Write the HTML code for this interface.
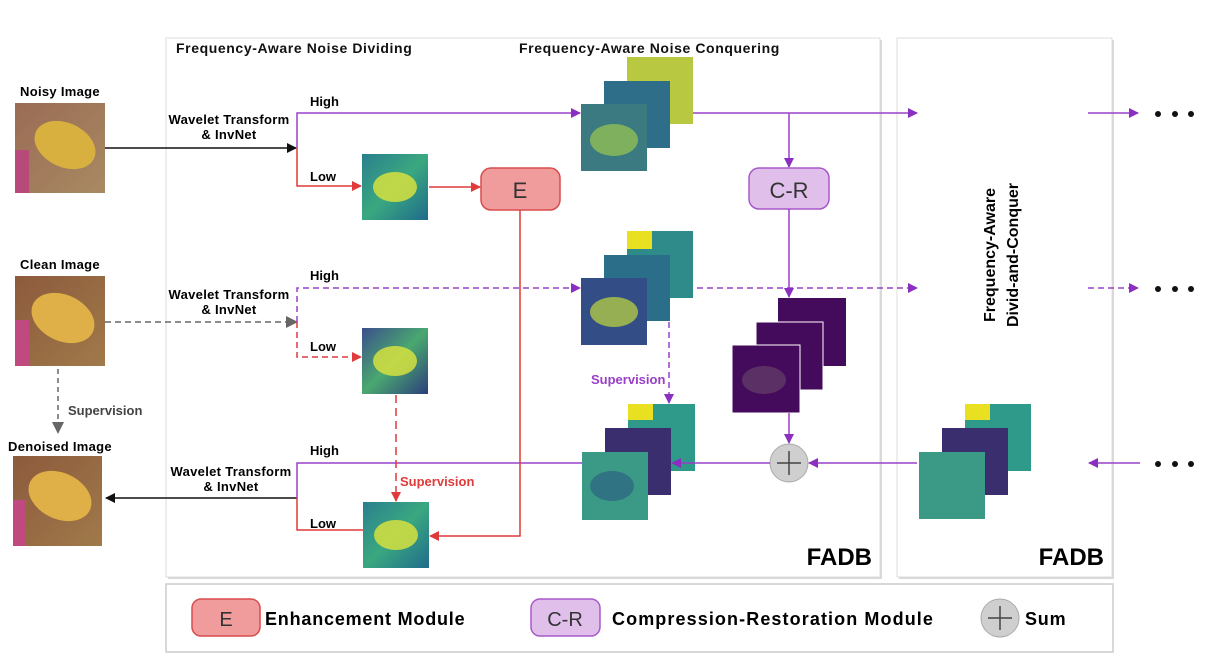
<!DOCTYPE html>
<html><head><meta charset="utf-8"><style>
body{margin:0;background:#fff}
svg{display:block;font-family:"Liberation Sans","DejaVu Sans",sans-serif}
</style></head><body>
<svg width="1217" height="660" viewBox="0 0 1217 660" xmlns="http://www.w3.org/2000/svg">
<defs>
<marker id="ap" markerWidth="10" markerHeight="10" refX="9" refY="5" orient="auto" markerUnits="userSpaceOnUse"><path d="M0,0 L10,5 L0,10 z" fill="#8a2fc0"/></marker>
<marker id="ar" markerWidth="10" markerHeight="10" refX="9" refY="5" orient="auto" markerUnits="userSpaceOnUse"><path d="M0,0 L10,5 L0,10 z" fill="#e03a3a"/></marker>
<marker id="ak" markerWidth="10" markerHeight="10" refX="9" refY="5" orient="auto" markerUnits="userSpaceOnUse"><path d="M0,0 L10,5 L0,10 z" fill="#111"/></marker>
<marker id="ag" markerWidth="12" markerHeight="12" refX="10" refY="6" orient="auto" markerUnits="userSpaceOnUse"><path d="M0,0 L12,6 L0,12 z" fill="#666"/></marker>
<linearGradient id="vir" x1="0" y1="0" x2="1" y2="1"><stop offset="0" stop-color="#2a7f8e"/><stop offset="0.5" stop-color="#3aa87f"/><stop offset="1" stop-color="#1f6b8c"/></linearGradient>
<linearGradient id="vir2" x1="0" y1="0" x2="1" y2="1"><stop offset="0" stop-color="#3b4f8c"/><stop offset="0.5" stop-color="#4aa870"/><stop offset="1" stop-color="#2c3e7c"/></linearGradient>
<linearGradient id="noisy" x1="0" y1="0" x2="1" y2="1"><stop offset="0" stop-color="#9a6b55"/><stop offset="1" stop-color="#a88a62"/></linearGradient>
<linearGradient id="clean" x1="0" y1="0" x2="1" y2="1"><stop offset="0" stop-color="#8c5a3c"/><stop offset="1" stop-color="#a07a4a"/></linearGradient>
</defs>

<rect x="168" y="40" width="714" height="539" fill="#d8d8d8"/>
<rect x="166" y="38" width="714" height="539" fill="#fff" stroke="#ddd"/>
<rect x="899" y="40" width="215" height="539" fill="#d8d8d8"/>
<rect x="897" y="38" width="215" height="539" fill="#fff" stroke="#ddd"/>
<rect x="166" y="584" width="947" height="68" fill="#fff" stroke="#ccc" stroke-width="1.5"/>

<text x="176" y="53" font-size="14" letter-spacing="0.6" font-weight="bold" fill="#111">Frequency-Aware Noise Dividing</text>
<text x="519" y="53" font-size="14" letter-spacing="0.6" font-weight="bold" fill="#111">Frequency-Aware Noise Conquering</text>

<text x="60" y="96" font-size="13" letter-spacing="0.3" font-weight="bold" text-anchor="middle">Noisy Image</text>
<rect x="15" y="103" width="90" height="90" fill="url(#noisy)"/>
<ellipse cx="65" cy="145" rx="32" ry="22" fill="#d8b040" transform="rotate(25 65 145)"/>
<rect x="15" y="150" width="14" height="43" fill="#b84a7a"/>
<text x="60" y="269" font-size="13" letter-spacing="0.3" font-weight="bold" text-anchor="middle">Clean Image</text>
<rect x="15" y="276" width="90" height="90" fill="url(#clean)"/>
<ellipse cx="63" cy="318" rx="33" ry="23" fill="#e0b048" transform="rotate(25 63 318)"/>
<rect x="15" y="320" width="14" height="46" fill="#c04a80"/>
<text x="60" y="451" font-size="13" letter-spacing="0.3" font-weight="bold" text-anchor="middle">Denoised Image</text>
<rect x="13" y="456" width="89" height="90" fill="url(#clean)"/>
<ellipse cx="60" cy="496" rx="33" ry="23" fill="#e0b048" transform="rotate(25 60 496)"/>
<rect x="13" y="500" width="13" height="46" fill="#c04a80"/>

<line x1="58" y1="369" x2="58" y2="432" stroke="#666" stroke-width="1.5" stroke-dasharray="5,4" marker-end="url(#ag)"/>
<text x="68" y="415" font-size="13" font-weight="bold" fill="#444">Supervision</text>

<g font-size="13" letter-spacing="0.3" font-weight="bold" text-anchor="middle">
<text x="229" y="124">Wavelet Transform</text>
<text x="229" y="139">&amp; InvNet</text>
<text x="229" y="299">Wavelet Transform</text>
<text x="229" y="314">&amp; InvNet</text>
<text x="231" y="476">Wavelet Transform</text>
<text x="231" y="491">&amp; InvNet</text>
</g>

<line x1="105" y1="148" x2="296" y2="148" stroke="#111" stroke-width="1.5" marker-end="url(#ak)"/>
<polyline points="297,148 297,113 580,113" fill="none" stroke="#9a40c8" stroke-width="1.5" marker-end="url(#ap)"/>
<polyline points="297,148 297,186 361,186" fill="none" stroke="#e03a3a" stroke-width="1.5" marker-end="url(#ar)"/>
<text x="310" y="106" font-size="13" font-weight="bold">High</text>
<text x="310" y="181" font-size="13" font-weight="bold">Low</text>
<line x1="429" y1="187" x2="480" y2="187" stroke="#e03a3a" stroke-width="1.5" marker-end="url(#ar)"/>
<line x1="647" y1="113" x2="917" y2="113" stroke="#9a40c8" stroke-width="1.5" marker-end="url(#ap)"/>

<line x1="105" y1="322" x2="296" y2="322" stroke="#666" stroke-width="1.5" stroke-dasharray="6,4" marker-end="url(#ag)"/>
<polyline points="297,322 297,288 580,288" fill="none" stroke="#9a40c8" stroke-width="1.5" stroke-dasharray="6,4" marker-end="url(#ap)"/>
<polyline points="297,322 297,357 361,357" fill="none" stroke="#e03a3a" stroke-width="1.5" stroke-dasharray="6,4" marker-end="url(#ar)"/>
<text x="310" y="280" font-size="13" font-weight="bold">High</text>
<text x="310" y="351" font-size="13" font-weight="bold">Low</text>
<line x1="647" y1="288" x2="917" y2="288" stroke="#9a40c8" stroke-width="1.5" stroke-dasharray="6,4" marker-end="url(#ap)"/>

<line x1="297" y1="498" x2="106" y2="498" stroke="#111" stroke-width="1.5" marker-end="url(#ak)"/>
<polyline points="582,463 297,463 297,498" fill="none" stroke="#9a40c8" stroke-width="1.5"/>
<polyline points="297,498 297,530 363,530" fill="none" stroke="#e03a3a" stroke-width="1.5"/>
<text x="310" y="455" font-size="13" font-weight="bold">High</text>
<text x="310" y="528" font-size="13" font-weight="bold">Low</text>
<line x1="396" y1="395" x2="396" y2="501" stroke="#e03a3a" stroke-width="1.5" stroke-dasharray="8,5" marker-end="url(#ar)"/>
<text x="400" y="486" font-size="13" font-weight="bold" fill="#e03a3a">Supervision</text>
<polyline points="520,210 520,536 430,536" fill="none" stroke="#e03a3a" stroke-width="1.5" marker-end="url(#ar)"/>

<rect x="362" y="154" width="66" height="66" fill="url(#vir)"/>
<ellipse cx="395" cy="187" rx="22" ry="15" fill="#d6e040" opacity="0.85"/>
<rect x="362" y="328" width="66" height="66" fill="url(#vir2)"/>
<ellipse cx="395" cy="361" rx="22" ry="15" fill="#d6e040" opacity="0.85"/>
<rect x="363" y="502" width="66" height="66" fill="url(#vir)"/>
<ellipse cx="396" cy="535" rx="22" ry="15" fill="#d6e040" opacity="0.85"/>

<rect x="481" y="168" width="79" height="42" rx="10" fill="#f09c9c" stroke="#d84c4c" stroke-width="1.5"/>
<text x="520" y="198" font-size="22" text-anchor="middle" fill="#333">E</text>

<rect x="627" y="57" width="66" height="67" fill="#b8c840"/>
<rect x="604" y="81" width="66" height="67" fill="#2e6e88"/>
<rect x="581" y="104" width="66" height="67" fill="#3a7a80"/>
<ellipse cx="614" cy="140" rx="24" ry="16" fill="#9cc850" opacity="0.7"/>
<rect x="627" y="231" width="66" height="67" fill="#2f8a8a"/>
<rect x="627" y="231" width="25" height="18" fill="#e8e020"/>
<rect x="604" y="255" width="66" height="66" fill="#2a6e8a"/>
<rect x="581" y="278" width="66" height="67" fill="#334d86"/>
<ellipse cx="614" cy="312" rx="24" ry="15" fill="#b8d040" opacity="0.75"/>
<rect x="628" y="404" width="67" height="67" fill="#2f9a8a"/>
<rect x="628" y="404" width="25" height="16" fill="#e8e020"/>
<rect x="605" y="428" width="66" height="67" fill="#3a2e6e"/>
<rect x="582" y="452" width="66" height="68" fill="#3a9a86"/>
<ellipse cx="612" cy="486" rx="22" ry="15" fill="#2a5a80" opacity="0.6"/>
<line x1="669" y1="322" x2="669" y2="403" stroke="#9a40c8" stroke-width="1.5" stroke-dasharray="6,4" marker-end="url(#ap)"/>
<text x="591" y="384" font-size="13" font-weight="bold" fill="#9a40c8">Supervision</text>

<rect x="778" y="298" width="68" height="68" fill="#440a5c"/>
<rect x="756" y="322" width="67" height="68" fill="#440a5c" stroke="#fff" stroke-width="1"/>
<rect x="732" y="345" width="68" height="68" fill="#440a5c" stroke="#fff" stroke-width="1"/>
<ellipse cx="764" cy="380" rx="22" ry="14" fill="#6a4a6a" opacity="0.6"/>

<line x1="789" y1="113" x2="789" y2="167" stroke="#9a40c8" stroke-width="1.5" marker-end="url(#ap)"/>
<rect x="749" y="168" width="80" height="41" rx="10" fill="#e0c0ea" stroke="#a858c8" stroke-width="1.5"/>
<text x="789" y="198" font-size="22" text-anchor="middle" fill="#333">C-R</text>
<line x1="789" y1="209" x2="789" y2="297" stroke="#9a40c8" stroke-width="1.5" marker-end="url(#ap)"/>
<line x1="789" y1="413" x2="789" y2="443" stroke="#9a40c8" stroke-width="1.5" marker-end="url(#ap)"/>

<circle cx="789" cy="463" r="19" fill="#cfcfcf" stroke="#aaa"/>
<line x1="777" y1="463" x2="801" y2="463" stroke="#444" stroke-width="1.5"/>
<line x1="789" y1="451" x2="789" y2="475" stroke="#444" stroke-width="1.5"/>
<line x1="917" y1="463" x2="809" y2="463" stroke="#9a40c8" stroke-width="1.5" marker-end="url(#ap)"/>
<line x1="770" y1="463" x2="672" y2="463" stroke="#9a40c8" stroke-width="1.5" marker-end="url(#ap)"/>

<text x="872" y="565" font-size="24" font-weight="bold" text-anchor="end">FADB</text>

<text transform="translate(995,255) rotate(-90)" font-size="16" font-weight="bold" text-anchor="middle">Frequency-Aware</text>
<text transform="translate(1018,255) rotate(-90)" font-size="16" font-weight="bold" text-anchor="middle">Divid-and-Conquer</text>
<rect x="965" y="404" width="66" height="67" fill="#2f9a8a"/>
<rect x="965" y="404" width="25" height="16" fill="#e8e020"/>
<rect x="942" y="428" width="66" height="67" fill="#3a2e6e"/>
<rect x="919" y="452" width="66" height="67" fill="#3a9a86"/>
<text x="1104" y="565" font-size="24" font-weight="bold" text-anchor="end">FADB</text>

<line x1="1088" y1="113" x2="1138" y2="113" stroke="#9a40c8" stroke-width="1.5" marker-end="url(#ap)"/>
<line x1="1088" y1="288" x2="1138" y2="288" stroke="#9a40c8" stroke-width="1.5" stroke-dasharray="6,4" marker-end="url(#ap)"/>
<line x1="1140" y1="463" x2="1089" y2="463" stroke="#9a40c8" stroke-width="1.5" marker-end="url(#ap)"/>
<g fill="#111">
<circle cx="1158" cy="114" r="3"/><circle cx="1175" cy="114" r="3"/><circle cx="1191" cy="114" r="3"/>
<circle cx="1158" cy="289" r="3"/><circle cx="1175" cy="289" r="3"/><circle cx="1191" cy="289" r="3"/>
<circle cx="1158" cy="464" r="3"/><circle cx="1175" cy="464" r="3"/><circle cx="1191" cy="464" r="3"/>
</g>

<rect x="192" y="599" width="68" height="37" rx="9" fill="#f09c9c" stroke="#d84c4c" stroke-width="1.5"/>
<text x="226" y="626" font-size="20" text-anchor="middle" fill="#333">E</text>
<text x="265" y="625" font-size="18" letter-spacing="0.8" font-weight="bold">Enhancement Module</text>
<rect x="531" y="599" width="69" height="37" rx="9" fill="#e0c0ea" stroke="#a858c8" stroke-width="1.5"/>
<text x="565" y="626" font-size="20" text-anchor="middle" fill="#333">C-R</text>
<text x="612" y="625" font-size="18" letter-spacing="1.1" font-weight="bold">Compression-Restoration Module</text>
<circle cx="1000" cy="618" r="19" fill="#cfcfcf" stroke="#aaa"/>
<line x1="988" y1="618" x2="1012" y2="618" stroke="#444" stroke-width="1.5"/>
<line x1="1000" y1="606" x2="1000" y2="630" stroke="#444" stroke-width="1.5"/>
<text x="1025" y="625" font-size="18" letter-spacing="0.8" font-weight="bold">Sum</text>
</svg>
</body></html>
